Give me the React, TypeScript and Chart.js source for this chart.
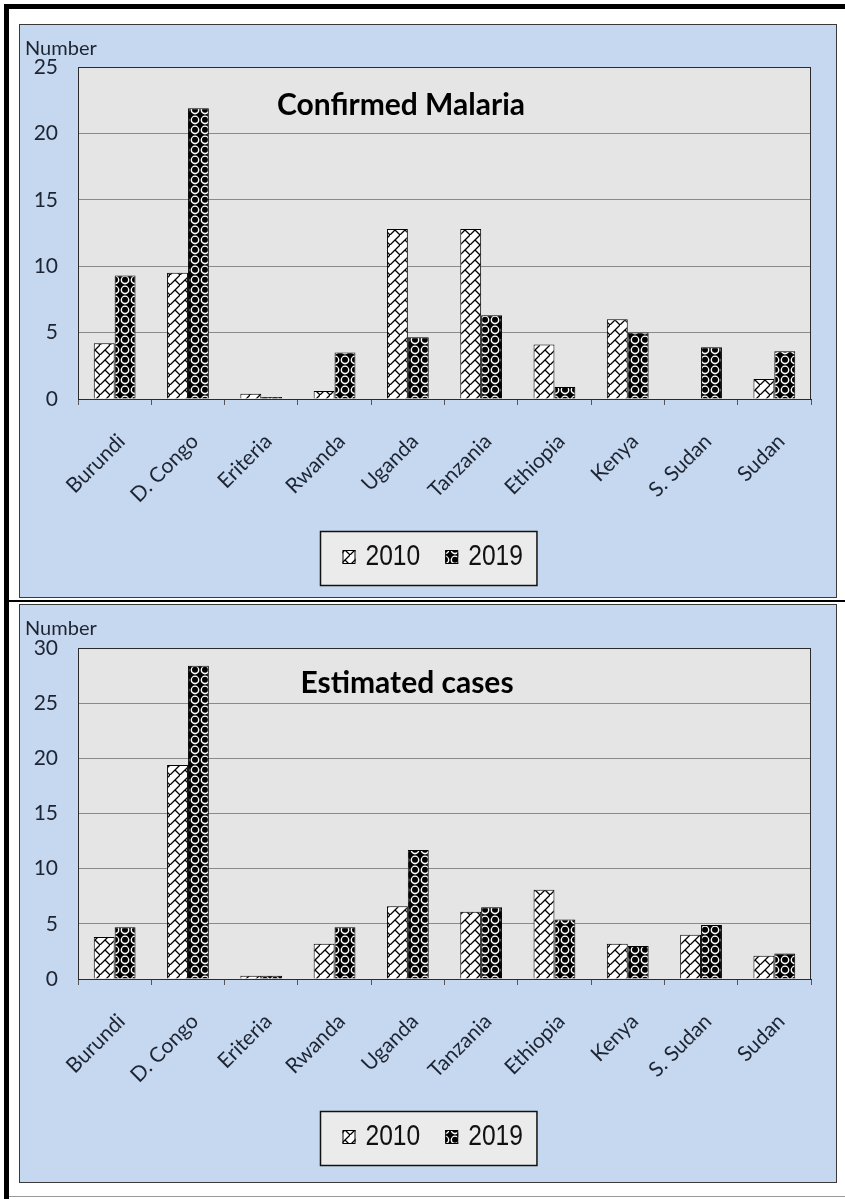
import React, { useEffect, useRef } from "react";
import { Chart, registerables } from "chart.js";

Chart.register(...registerables);

// ---------- data ----------
const countries = ["Burundi", "D. Congo", "Eriteria", "Rwanda", "Uganda", "Tanzania", "Ethiopia", "Kenya", "S. Sudan", "Sudan"];
const seriesLabels = ["2010", "2019"];

const confirmed2010 = [4.2, 9.5, 0.4, 0.6, 12.8, 12.8, 4.1, 6.0, 0, 1.5];
const confirmed2019 = [9.3, 21.9, 0.15, 3.5, 4.65, 6.3, 0.9, 5.0, 3.9, 3.6];
const estimated2010 = [3.8, 19.4, 0.3, 3.2, 6.6, 6.1, 8.1, 3.2, 4.0, 2.1];
const estimated2019 = [4.7, 28.4, 0.3, 4.7, 11.7, 6.5, 5.4, 3.0, 4.9, 2.3];

const confirmedTicks = [0, 5, 10, 15, 20, 25];
const estimatedTicks = [0, 5, 10, 15, 20, 25, 30];

const confirmedTitle = "Confirmed Malaria";
const estimatedTitle = "Estimated cases";
const yAxisTitle = "Number";

// ---------- styles ----------
const TEXT = "#1d2433";
const FONT = "Lato, 'Open Sans', sans-serif";
const PANEL_BG = "#c6d8ef";
const PLOT_BG = "#e5e5e5";

function makeBrick(): CanvasPattern | string {
  const s = 10;
  const c = document.createElement("canvas");
  c.width = s;
  c.height = s;
  const g = c.getContext("2d");
  if (!g) return "#fff";
  g.fillStyle = "#ffffff";
  g.fillRect(0, 0, s, s);
  g.strokeStyle = "#000";
  g.lineWidth = 1.3;
  g.beginPath();
  g.moveTo(-1, s + 1);
  g.lineTo(s + 1, -1);
  g.moveTo(s / 2, s / 2);
  g.lineTo(s + 1, s + 1);
  g.stroke();
  return g.createPattern(c, "repeat") || "#fff";
}

function makeSphere(): CanvasPattern | string {
  const s = 10;
  const c = document.createElement("canvas");
  c.width = s;
  c.height = s;
  const g = c.getContext("2d");
  if (!g) return "#000";
  g.fillStyle = "#000";
  g.fillRect(0, 0, s, s);
  g.fillStyle = "#fff";
  g.beginPath();
  g.arc(5, 5, 4.4, 0, Math.PI * 2);
  g.fill();
  g.fillStyle = "#000";
  g.beginPath();
  g.arc(5, 4.8, 3.0, 0, Math.PI * 2);
  g.fill();
  return g.createPattern(c, "repeat") || "#000";
}

function makeDecor(title: string, titleX: number, titleY: number) {
  return {
    id: "decor",
    beforeDraw(chart: any) {
      const { ctx, chartArea: a } = chart;
      ctx.save();
      ctx.fillStyle = PLOT_BG;
      ctx.fillRect(a.left, a.top, a.right - a.left, a.bottom - a.top);
      ctx.restore();
    },
    afterDraw(chart: any) {
      const { ctx, chartArea: a, width } = chart;
      ctx.save();
      // plot border
      ctx.strokeStyle = "#2b2b2b";
      ctx.lineWidth = 1;
      ctx.strokeRect(a.left + 0.5, a.top + 0.5, a.right - a.left - 1, a.bottom - a.top);
      // title
      ctx.fillStyle = "#000";
      ctx.font = `bold 30px ${FONT}`;
      ctx.textAlign = "center";
      ctx.textBaseline = "middle";
      ctx.fillText(title, titleX, titleY);
      // y axis title
      ctx.fillStyle = TEXT;
      ctx.font = `20px ${FONT}`;
      ctx.textAlign = "left";
      ctx.fillText(yAxisTitle, 5, 24);
      // legend
      const ds = chart.data.datasets;
      const sx = 0.82;
      ctx.font = "30px 'Liberation Sans', Arial, sans-serif";
      const widths = ds.map((d: any) => ctx.measureText(d.label).width * sx);
      const m = 13, g = 10, gap = 25, padL = 22, padR = 14;
      let group = 0;
      widths.forEach((w: number, i: number) => {
        group += m + g + w + (i < widths.length - 1 ? gap : 0);
      });
      const boxW = padL + group + padR;
      const boxL = Math.round(width / 2 - boxW / 2) + 0.5;
      const boxT = 506.5;
      const boxH = 54;
      ctx.fillStyle = "#ebebeb";
      ctx.fillRect(boxL, boxT, boxW, boxH);
      ctx.strokeStyle = "#111";
      ctx.lineWidth = 1.5;
      ctx.strokeRect(boxL, boxT, boxW, boxH);
      let x = boxL + padL;
      ds.forEach((d: any, i: number) => {
        ctx.fillStyle = d.backgroundColor;
        ctx.fillRect(x, 525, m, 14);
        ctx.strokeStyle = "#000";
        ctx.lineWidth = 1;
        ctx.strokeRect(x + 0.5, 525.5, m - 1, 13);
        x += m + g;
        ctx.save();
        ctx.translate(x, 540);
        ctx.scale(sx, 1);
        ctx.fillStyle = "#111";
        ctx.textAlign = "left";
        ctx.textBaseline = "alphabetic";
        ctx.fillText(d.label, 0, 0);
        ctx.restore();
        x += widths[i] + gap;
      });
      ctx.restore();
    },
  };
}

function BarPanel(props: {
  width: number;
  height: number;
  a: number[];
  b: number[];
  ticks: number[];
  title: string;
  titleX: number;
  titleY: number;
  plotTop: number;
}) {
  const ref = useRef<HTMLCanvasElement | null>(null);
  useEffect(() => {
    const canvas = ref.current;
    if (!canvas) return;
    const brick = makeBrick();
    const sphere = makeSphere();
    const plotBottom = 374;
    const chart = new Chart(canvas, {
      type: "bar",
      data: {
        labels: countries,
        datasets: [
          {
            label: seriesLabels[0],
            data: props.a,
            backgroundColor: brick as any,
            borderColor: "#000",
            borderWidth: 1,
            barPercentage: 1,
            categoryPercentage: 0.57,
          },
          {
            label: seriesLabels[1],
            data: props.b,
            backgroundColor: sphere as any,
            borderColor: "#000",
            borderWidth: 1,
            barPercentage: 1,
            categoryPercentage: 0.57,
          },
        ],
      },
      options: {
        responsive: false,
        animation: false,
        devicePixelRatio: 1,
        layout: { padding: { left: 0, right: 25, top: props.plotTop, bottom: 0 } },
        plugins: {
          legend: { display: false },
          title: { display: false },
          tooltip: { enabled: false },
        },
        scales: {
          x: {
            offset: true,
            grid: { drawOnChartArea: false, drawTicks: true, tickLength: 6, color: "#555", offset: true },
            border: { display: true, color: "#2b2b2b", width: 1 },
            ticks: {
              color: TEXT,
              font: { family: FONT, size: 21 },
              minRotation: 45,
              maxRotation: 45,
              autoSkip: false,
              padding: 24,
              labelOffset: 7,
            },
            afterFit: (s: any) => {
              s.height = props.height - plotBottom;
            },
          },
          y: {
            min: 0,
            max: props.ticks[props.ticks.length - 1],
            ticks: {
              stepSize: props.ticks[1] - props.ticks[0],
              color: TEXT,
              font: { family: FONT, size: 21 },
              padding: 20,
            },
            grid: { color: "#8a8a8a", lineWidth: 1, drawTicks: false },
            border: { display: true, color: "#2b2b2b", width: 1 },
            afterFit: (s: any) => {
              s.width = 58;
            },
          },
        },
      },
      plugins: [makeDecor(props.title, props.titleX, props.titleY)],
    });
    return () => chart.destroy();
  }, []);
  return (
    <canvas
      ref={ref}
      width={props.width}
      height={props.height}
      style={{ position: "absolute", left: 0, top: 0, width: props.width, height: props.height }}
    />
  );
}

export default function App() {
  return (
    <div
      style={{
        position: "absolute",
        left: 0,
        top: 0,
        width: 845,
        height: 1199,
        background: "#fff",
        overflow: "hidden",
      }}
    >
      <div
        style={{
          position: "absolute",
          left: 4,
          top: 4,
          width: 841,
          height: 1195,
          borderTop: "5px solid #000",
          borderLeft: "5px solid #000",
          boxSizing: "border-box",
        }}
      />
      <div
        style={{
          position: "absolute",
          left: 19,
          top: 24,
          width: 818,
          height: 574,
          border: "1px solid #3a3a3a",
          background: PANEL_BG,
          boxSizing: "border-box",
        }}
      >
        <BarPanel
          width={816}
          height={572}
          a={confirmed2010}
          b={confirmed2019}
          ticks={confirmedTicks}
          title={confirmedTitle}
          titleX={381}
          titleY={80}
          plotTop={42}
        />
      </div>
      <div style={{ position: "absolute", left: 4, top: 600, width: 841, height: 2, background: "#000" }} />
      <div
        style={{
          position: "absolute",
          left: 19,
          top: 604,
          width: 818,
          height: 579,
          border: "1px solid #3a3a3a",
          background: PANEL_BG,
          boxSizing: "border-box",
        }}
      >
        <BarPanel
          width={816}
          height={577}
          a={estimated2010}
          b={estimated2019}
          ticks={estimatedTicks}
          title={estimatedTitle}
          titleX={387}
          titleY={78}
          plotTop={43}
        />
      </div>
      <div style={{ position: "absolute", left: 9, top: 1196, width: 836, height: 1, background: "#9a9a9a" }} />
    </div>
  );
}
